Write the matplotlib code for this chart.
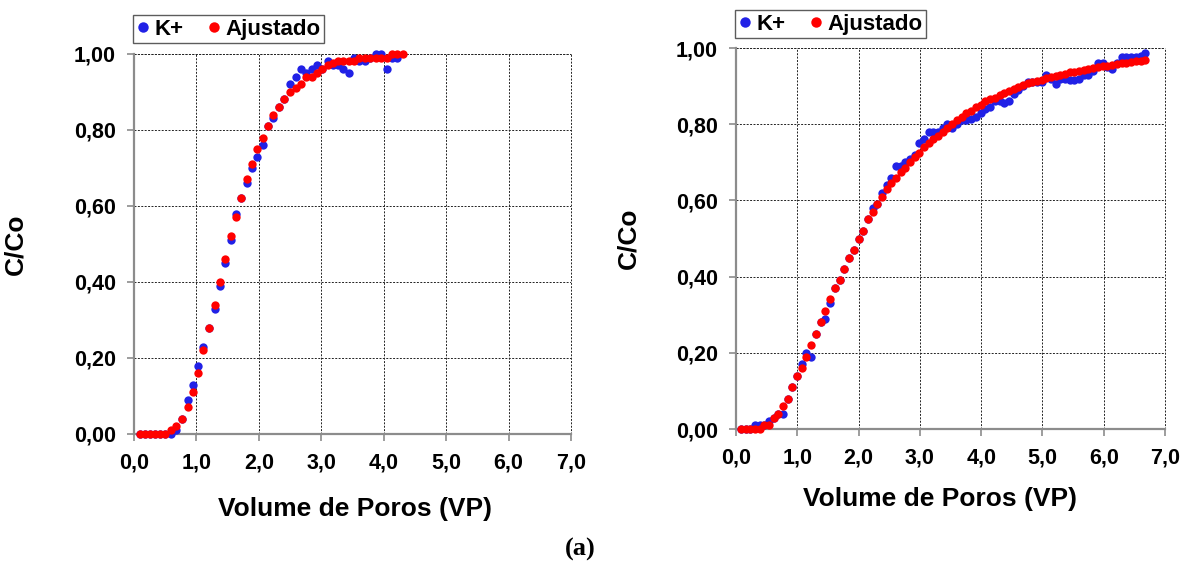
import matplotlib
matplotlib.use("Agg")
import matplotlib.pyplot as plt
import numpy as np
from matplotlib.ticker import FuncFormatter, MultipleLocator

# ---------------- data: left panel ----------------
x_left = [0.10, 0.18, 0.26, 0.34, 0.42, 0.50, 0.59, 0.68, 0.77, 0.86,
          0.94, 1.03, 1.11, 1.20, 1.29, 1.37, 1.46, 1.55, 1.63, 1.72,
          1.81, 1.89, 1.97, 2.06, 2.15, 2.23, 2.32, 2.41, 2.50, 2.59,
          2.68, 2.76, 2.85, 2.93, 3.01, 3.10, 3.18, 3.27, 3.35, 3.44,
          3.53, 3.61, 3.70, 3.78, 3.87, 3.96, 4.05, 4.13, 4.22, 4.31]
k_left = [0.00, 0.00, 0.00, 0.00, 0.00, 0.00, 0.00, 0.01, 0.04, 0.09,
          0.13, 0.18, 0.23, 0.28, 0.33, 0.39, 0.45, 0.51, 0.58, 0.62,
          0.66, 0.70, 0.73, 0.76, 0.81, 0.83, 0.86, 0.88, 0.92, 0.94,
          0.96, 0.95, 0.96, 0.97, 0.96, 0.98, 0.97, 0.97, 0.96, 0.95,
          0.99, 0.98, 0.98, 0.99, 1.00, 1.00, 0.96, 0.99, 0.99]
fit_left = [0.00, 0.00, 0.00, 0.00, 0.00, 0.00, 0.01, 0.02, 0.04, 0.07,
            0.11, 0.16, 0.22, 0.28, 0.34, 0.40, 0.46, 0.52, 0.57, 0.62,
            0.67, 0.71, 0.75, 0.78, 0.81, 0.84, 0.86, 0.88, 0.90, 0.91,
            0.92, 0.94, 0.94, 0.95, 0.96, 0.97, 0.975, 0.98, 0.98, 0.98,
            0.98, 0.99, 0.99, 0.99, 0.99, 0.99, 0.99, 1.00, 1.00, 1.00]

# ---------------- data: right panel ----------------
x_right = [0.08, 0.16, 0.23, 0.31, 0.39, 0.46, 0.54, 0.62, 0.69, 0.77,
           0.85, 0.92, 1.00, 1.08, 1.15, 1.23, 1.31, 1.38, 1.46, 1.54,
           1.61, 1.69, 1.77, 1.84, 1.92, 2.00, 2.07, 2.15, 2.23, 2.30,
           2.38, 2.46, 2.53, 2.61, 2.69, 2.76, 2.84, 2.92, 2.99, 3.07,
           3.15, 3.22, 3.30, 3.38, 3.45, 3.53, 3.61, 3.68, 3.76, 3.84,
           3.91, 3.99, 4.07, 4.14, 4.22, 4.30, 4.37, 4.45, 4.53, 4.60,
           4.68, 4.76, 4.83, 4.91, 4.99, 5.06, 5.14, 5.22, 5.29, 5.37,
           5.45, 5.52, 5.60, 5.68, 5.75, 5.83, 5.91, 5.98, 6.06, 6.14,
           6.21, 6.29, 6.37, 6.44, 6.52, 6.60, 6.67]
k_right = [0.00, 0.00, 0.00, 0.01, 0.01, 0.01, 0.02, 0.03, 0.04, 0.04,
           0.08, 0.11, 0.14, 0.17, 0.20, 0.19, 0.25, 0.28, 0.29, 0.33,
           0.37, 0.39, 0.42, 0.45, 0.47, 0.50, 0.52, 0.55, 0.58, 0.59,
           0.62, 0.64, 0.66, 0.69, 0.69, 0.70, 0.71, 0.72, 0.75, 0.76,
           0.78, 0.78, 0.78, 0.79, 0.80, 0.79, 0.80, 0.81, 0.81, 0.815,
           0.82, 0.83, 0.84, 0.846, 0.86, 0.86, 0.855, 0.86, 0.88, 0.89,
           0.90, 0.91, 0.91, 0.91, 0.91, 0.93, 0.92, 0.905, 0.92, 0.92,
           0.915, 0.915, 0.92, 0.93, 0.93, 0.94, 0.96, 0.96, 0.95, 0.944,
           0.96, 0.977, 0.977, 0.977, 0.977, 0.98, 0.988]
fit_right = [0.00, 0.00, 0.00, 0.00, 0.00, 0.01, 0.01, 0.03, 0.04, 0.06,
             0.08, 0.11, 0.14, 0.16, 0.19, 0.22, 0.25, 0.28, 0.31, 0.34,
             0.37, 0.39, 0.42, 0.45, 0.47, 0.50, 0.52, 0.55, 0.57, 0.59,
             0.61, 0.63, 0.645, 0.66, 0.675, 0.685, 0.70, 0.715, 0.725, 0.74,
             0.75, 0.76, 0.77, 0.78, 0.79, 0.80, 0.81, 0.82, 0.83, 0.835,
             0.845, 0.85, 0.86, 0.865, 0.87, 0.878, 0.883, 0.888, 0.893, 0.898,
             0.903, 0.907, 0.91, 0.914, 0.917, 0.921, 0.924, 0.927, 0.93, 0.933,
             0.936, 0.938, 0.941, 0.943, 0.946, 0.948, 0.95, 0.952, 0.954, 0.956,
             0.958, 0.96, 0.962, 0.964, 0.965, 0.967, 0.969]

series_labels = ["K+", "Ajustado"]
xlabel_text = "Volume de Poros (VP)"
ylabel_text = "C/Co"
caption_text = "(a)"

BLUE = "#2121e6"
RED = "#ff0000"
FONT = "Liberation Sans"
MS = 6.0

fig = plt.figure(figsize=(11.81, 5.69), dpi=100)

def style_axes(ax, xlab_pos, ylab_pos):
    ax.set_xlim(0, 7)
    ax.set_ylim(0, 1.0)
    ax.xaxis.set_major_locator(MultipleLocator(1.0))
    ax.yaxis.set_major_locator(MultipleLocator(0.2))
    ax.xaxis.set_major_formatter(FuncFormatter(lambda v, p: f"{v:.1f}".replace(".", ",")))
    ax.yaxis.set_major_formatter(FuncFormatter(lambda v, p: f"{v:.2f}".replace(".", ",")))
    for s in ["top", "right"]:
        ax.spines[s].set_visible(False)
    for s in ["left", "bottom"]:
        ax.spines[s].set_color("#8c8c8c")
        ax.spines[s].set_linewidth(1.6)
    ax.grid(True, color="#222222", linestyle=(0, (2, 1.5)), linewidth=0.7)
    ax.set_axisbelow(True)
    ax.tick_params(axis="both", direction="out", length=5, width=1.2, color="#8c8c8c",
                   labelsize=15.5, pad=8)
    for lab in ax.get_xticklabels() + ax.get_yticklabels():
        lab.set_fontfamily(FONT)
        lab.set_fontweight("bold")
    ax.set_xlabel(xlabel_text, fontsize=19, fontweight="bold", family=FONT)
    ax.set_ylabel(ylabel_text, fontsize=19, fontweight="bold", family=FONT)
    ax.xaxis.set_label_coords(*xlab_pos)
    ax.yaxis.set_label_coords(*ylab_pos)
    ax.axhline(1.0, color="#222222", linestyle=(0, (2, 1.5)), linewidth=0.7, clip_on=False)
    ax.axvline(7.0, color="#222222", linestyle=(0, (2, 1.5)), linewidth=0.7, clip_on=False)

axL = fig.add_axes([0.1135, 0.2373, 0.370, 0.668])
hb = axL.plot(x_left[:len(k_left)], k_left, "o", color=BLUE, ms=MS, mew=0, clip_on=False, zorder=3)[0]
hr = axL.plot(x_left, fit_left, "o", color=RED, ms=MS, mew=0, clip_on=False, zorder=4)[0]
style_axes(axL, (0.506, -0.165), (-0.245, 0.5))

axR = fig.add_axes([0.6232, 0.246, 0.3633, 0.6696])
axR.plot(x_right, k_right, "o", color=BLUE, ms=MS, mew=0, clip_on=False, zorder=3)
axR.plot(x_right, fit_right, "o", color=RED, ms=MS, mew=0, clip_on=False, zorder=4)
style_axes(axR, (0.476, -0.152), (-0.222, 0.5))

def add_legend(anchor):
    leg = fig.legend([hb, hr], series_labels, ncol=2, loc="lower left",
                     bbox_to_anchor=anchor, bbox_transform=fig.transFigure,
                     frameon=True, fancybox=False, edgecolor="#333333",
                     handlelength=0.6, handletextpad=0.2, columnspacing=1.1,
                     borderpad=0.15, borderaxespad=0, markerscale=1.25,
                     prop={"family": FONT, "weight": "bold", "size": 16})
    leg.get_frame().set_linewidth(1.0)
    return leg

add_legend((0.1126, 0.9244))
add_legend((0.6224, 0.9332))

fig.text(0.491, 0.035, caption_text, fontsize=19, fontweight="bold",
         family="Liberation Serif", ha="center", va="center")

fig.savefig("out.png", dpi=100)
